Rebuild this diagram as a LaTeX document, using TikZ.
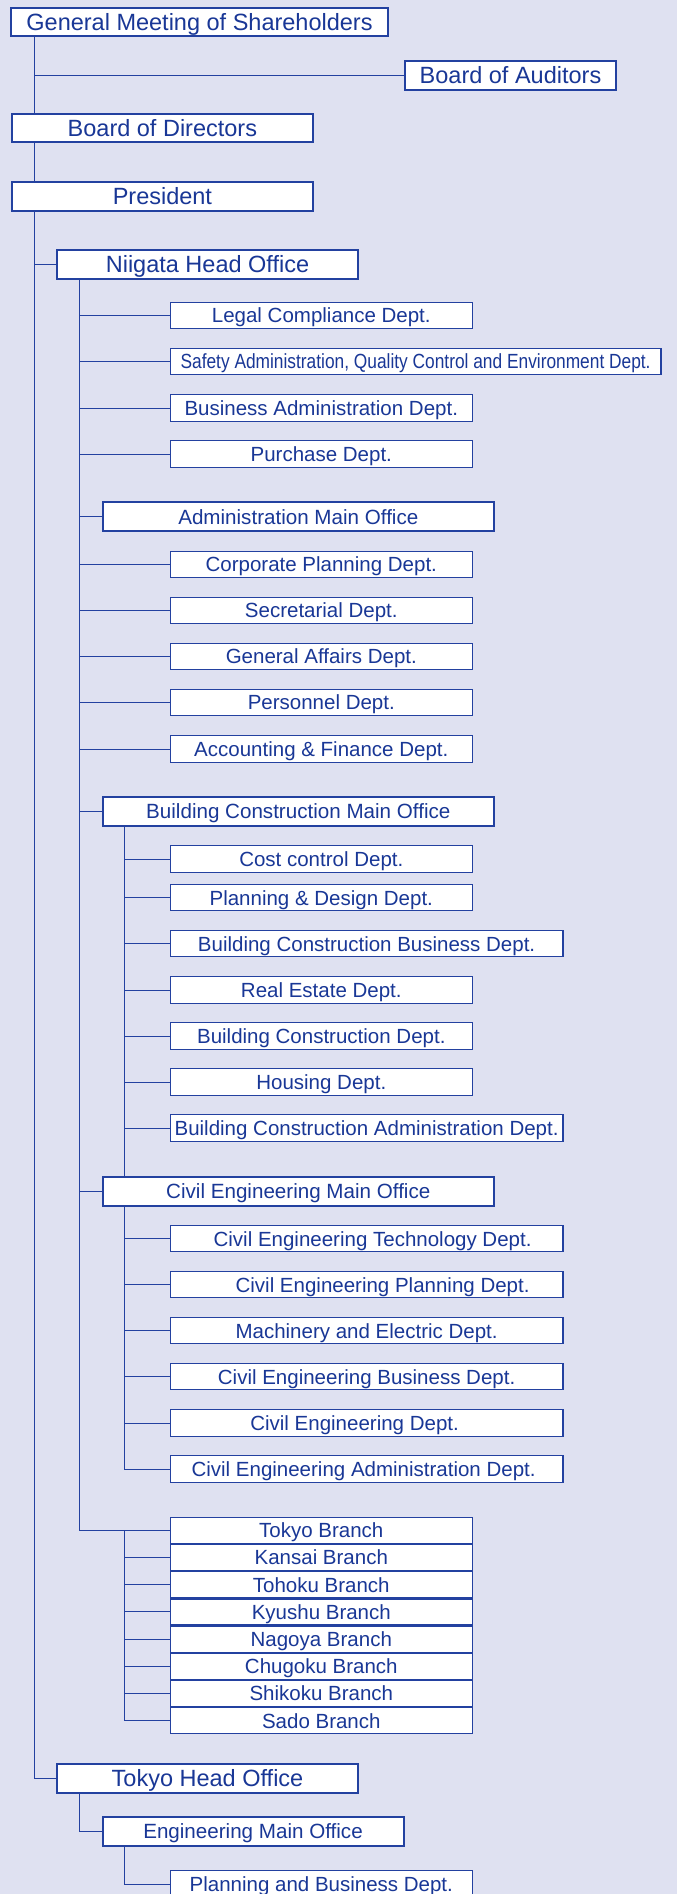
\documentclass[tikz,border=0pt]{standalone}
\usepackage{fontspec}
\setmainfont{Liberation Sans}
\usepackage{graphicx}
\definecolor{bg}{RGB}{223,225,241}
\definecolor{ln}{RGB}{35,65,160}
\definecolor{tx}{RGB}{25,55,150}
\begin{document}
\begin{tikzpicture}[x=1pt,y=-1pt,
  box/.style={draw=ln, fill=white, text=tx, inner sep=0pt, text depth=0pt},
  topbox/.style={box, line width=2pt, font=\fontsize{23.5}{26}\selectfont, text height=16.8pt, minimum height=28.6pt},
  mainbox/.style={box, line width=2pt, font=\fontsize{20.6}{24}\selectfont, text height=14.75pt, minimum height=29pt, minimum width=391.5pt},
  dept/.style={box, line width=1.2pt, font=\fontsize{20.5}{24}\selectfont, text height=14.7pt, minimum height=26.3pt, minimum width=301.8pt},
  wdept/.style={dept, minimum width=392.6pt},
  branch/.style={dept, minimum height=26pt},
  link/.style={draw=ln, line width=1pt}]
\useasboundingbox (0,0) rectangle (677,1894);
\fill[bg] (0,0) rectangle (677,1894);
\clip (0,0) rectangle (677,1894);

\coordinate (T0) at (34,0);
\coordinate (T1) at (79,0);
\coordinate (T2) at (124.4,0);

% top level
\node[topbox, minimum width=377pt] (gms) at (199.5,22) {General Meeting of Shareholders};
\node[topbox, minimum width=211pt] (boa) at (510.5,75.3) {Board of Auditors};
\node[topbox, minimum width=301pt] (bod) at (162.4,128) {Board of Directors};
\node[topbox, minimum width=301pt] (pres) at (162.4,196.3) {President};
\node[topbox, minimum width=301pt] (niigata) at (207.5,264.2) {Niigata Head Office};

% Niigata direct depts
\node[dept] (legal) at (321.3,315.5) {Legal Compliance Dept.};
\node[dept, minimum width=490.6pt] (safety) at (415.6,361.5) {\resizebox{470pt}{\height}{Safety Administration, Quality Control and Environment Dept.}};
\node[dept] (busadm) at (321.3,408) {Business Administration Dept.};
\node[dept] (purch) at (321.3,454) {Purchase Dept.};

% Administration
\node[mainbox] (admmo) at (298.3,516.7) {Administration Main Office};
\node[dept] (corp) at (321.3,564.5) {Corporate Planning Dept.};
\node[dept] (secr) at (321.3,610.5) {Secretarial Dept.};
\node[dept] (genaff) at (321.3,656.5) {General Affairs Dept.};
\node[dept] (pers) at (321.3,702.5) {Personnel Dept.};
\node[dept] (acct) at (321.3,749) {Accounting \& Finance Dept.};

% Building construction
\node[mainbox] (bcmo) at (298.3,811.5) {Building Construction Main Office};
\node[dept] (cost) at (321.3,859) {Cost control Dept.};
\node[dept] (pland) at (321.3,897.7) {Planning \& Design Dept.};
\node[wdept] (bcbus) at (366.6,943.7) {Building Construction Business Dept.};
\node[dept] (reale) at (321.3,990) {Real Estate Dept.};
\node[dept] (bcdept) at (321.3,1036) {Building Construction Dept.};
\node[dept] (housing) at (321.3,1082) {Housing Dept.};
\node[wdept] (bcadm) at (366.6,1128) {Building Construction Administration Dept.};

% Civil engineering
\node[mainbox] (cemo) at (298.3,1191) {Civil Engineering Main Office};
\node[wdept] (cetech) at (366.6,1238.7) {\hspace*{12pt}Civil Engineering Technology Dept.};
\node[wdept] (ceplan) at (366.6,1284.7) {\hspace*{32pt}Civil Engineering Planning Dept.};
\node[wdept] (mach) at (366.6,1330.7) {Machinery and Electric Dept.};
\node[wdept] (cebus) at (366.6,1376.7) {Civil Engineering Business Dept.};
\node[wdept] (cedept) at (366.6,1423) {Civil Engineering Dept.\hspace*{24pt}};
\node[wdept] (ceadm) at (366.6,1469) {Civil Engineering Administration Dept.\hspace*{6pt}};

% Branches
\node[branch] (b1) at (321.3,1530.3) {Tokyo Branch};
\node[branch] (b2) at (321.3,1557.5) {Kansai Branch};
\node[branch] (b3) at (321.3,1584.7) {Tohoku Branch};
\node[branch] (b4) at (321.3,1611.9) {Kyushu Branch};
\node[branch] (b5) at (321.3,1639.1) {Nagoya Branch};
\node[branch] (b6) at (321.3,1666.3) {Chugoku Branch};
\node[branch] (b7) at (321.3,1693.5) {Shikoku Branch};
\node[branch] (b8) at (321.3,1720.7) {Sado Branch};

% Tokyo head office
\node[topbox, minimum width=301pt] (tokyo) at (207.5,1778.5) {Tokyo Head Office};
\node[mainbox, minimum width=301pt] (emo) at (253,1831.3) {Engineering Main Office};
\node[dept] (pb) at (321.3,1884) {Planning and Business Dept.};

% connectors
\draw[link] (T0 |- gms.south) -- (T0 |- bod.north);
\draw[link] (T0 |- boa) -- (boa.west);
\draw[link] (T0 |- bod.south) -- (T0 |- pres.north);
\draw[link] (T0 |- pres.south) -- (T0 |- tokyo) -- (tokyo.west);
\draw[link] (T0 |- niigata) -- (niigata.west);
\draw[link] (T1 |- niigata.south) -- (T1 |- b1) -- (b1.west);
\foreach \n in {legal,safety,busadm,purch,admmo,corp,secr,genaff,pers,acct,bcmo,cemo}
  \draw[link] (T1 |- \n) -- (\n.west);
\draw[link] (T2 |- bcmo.south) -- (T2 |- cemo.north);
\foreach \n in {cost,pland,bcbus,reale,bcdept,housing,bcadm}
  \draw[link] (T2 |- \n) -- (\n.west);
\draw[link] (T2 |- cemo.south) -- (T2 |- ceadm) -- (ceadm.west);
\foreach \n in {cetech,ceplan,mach,cebus,cedept}
  \draw[link] (T2 |- \n) -- (\n.west);
\draw[link] (T2 |- b1) -- (T2 |- b8) -- (b8.west);
\foreach \n in {b2,b3,b4,b5,b6,b7}
  \draw[link] (T2 |- \n) -- (\n.west);
\draw[link] (T1 |- tokyo.south) -- (T1 |- emo) -- (emo.west);
\draw[link] (T2 |- emo.south) -- (T2 |- pb) -- (pb.west);
\end{tikzpicture}
\end{document}
